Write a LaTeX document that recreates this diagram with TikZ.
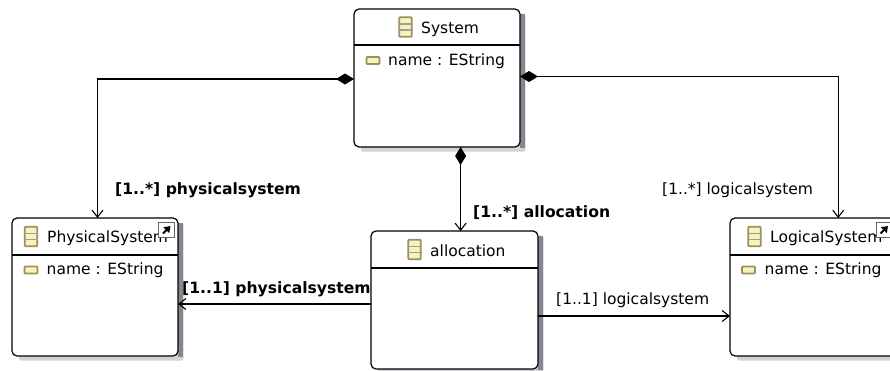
\documentclass[tikz,border=0pt]{standalone}
\usepackage{fontspec}
\setmainfont{DejaVu Sans}
\usetikzlibrary{arrows.meta,calc}
\definecolor{shadowdark}{HTML}{8A8490}
\definecolor{shadowlight}{HTML}{D4D2D6}
\definecolor{iconedge}{HTML}{A08E5E}
\definecolor{iconfill}{HTML}{F6F4BE}
\definecolor{icongrey}{HTML}{A0A08C}
\tikzset{
  x=1pt,y=-1pt,
  classbox/.style={draw=black,fill=white,line width=1.2pt,rounded corners=5pt,minimum width=166pt,minimum height=138pt,inner sep=0pt,outer sep=0pt},
  classshadow/.style={fill=shadowlight,rounded corners=2pt,draw=none},
  classshadowd/.style={fill=shadowdark,draw=none},
  sep/.style={line width=1.2pt},
  txt/.style={inner sep=0pt,anchor=west,text=black,font=\fontsize{15.5}{18}\selectfont},
  btxt/.style={txt,font=\fontsize{15.6}{18}\selectfont\bfseries},
  classicon/.style={draw=iconedge,fill=iconfill,line width=1.8pt,minimum width=12.5pt,minimum height=19.5pt,inner sep=0pt,rounded corners=1pt},
  attricon/.style={draw=iconedge,fill=iconfill,line width=1.8pt,minimum width=13pt,minimum height=7pt,inner sep=0pt,rounded corners=1pt},
  stripe/.style={draw=icongrey,line width=1.3pt},
  shortcut/.style={draw=black!60,fill=white,line width=1.3pt,minimum width=15.5pt,minimum height=15.5pt,inner sep=0pt},
  conn/.style={draw=black,line width=1.3pt},
  opentip/.style={-{Straight Barb[length=7pt,width=11pt,line width=1.1pt]}},
  comp/.style={{Diamond[length=18pt,width=11pt,fill=black]}-{Straight Barb[length=7pt,width=11pt,line width=1.1pt]}},
  shortarrow/.style={line width=2pt,-{Triangle[length=6pt,width=8pt]}},
}
\begin{document}
\begin{tikzpicture}
\useasboundingbox (0,0) rectangle (890,370);
\clip (0,0) rectangle (890,370);
\fill[white] (0,0) rectangle (890,370);
% shadows
\foreach \xa/\ya/\xb/\yb in {354/9/520/147,12/218/178/356,730/218/896/356,371/231/538/369}{
  \fill[classshadow] (\xa+7,\ya+5) rectangle (\xb+5.5,\yb+4.5);
  \fill[classshadowd] (\xb,\ya+5) rectangle (\xb+4.5,\yb+1);
}
% boxes
\node[classbox] (sys) at (437,78) {};
\node[classbox] (phy) at (95,287) {};
\node[classbox] (log) at (813,287) {};
\node[classbox,minimum width=167pt] (all) at (454.5,300) {};
% header rules
\draw[sep] (sys.west |- 0,45) -- (sys.east |- 0,45);
\draw[sep] (phy.west |- 0,255) -- (phy.east |- 0,255);
\draw[sep] (log.west |- 0,255) -- (log.east |- 0,255);
\draw[sep] (all.west |- 0,268) -- (all.east |- 0,268);
% class icons
\foreach \n/\x/\y in {isys/405.5/27,iphy/31/236.5,ilog/754.5/236.5,iall/414.5/249.5}{
  \node[classicon] (\n) at (\x,\y) {};
  \draw[stripe] (\n.west |- 0,\y-3) -- (\n.east |- 0,\y-3);
  \draw[stripe] (\n.west |- 0,\y+3) -- (\n.east |- 0,\y+3);
}
% attribute icons
\node[attricon] (asys) at (373,60.5) {};
\node[attricon] (aphy) at (31,270) {};
\node[attricon] (alog) at (748.5,270) {};
% titles and attributes
\node[txt] (tsys) at (421,29.5) {System};
\node[txt] (tphy) at (47,238) {PhysicalSystem};
\node[txt] (tlog) at (770,238) {LogicalSystem};
\node[txt] (tall) at (430,251) {allocation};
\node[txt] (nsys) at (388,61.5) {name : EString};
\node[txt] (nphy) at (46.5,270.5) {name : EString};
\node[txt] (nlog) at (764.5,270.5) {name : EString};
% shortcut markers
\node[shortcut] (sphy) at (166.5,230) {};
\node[shortcut] (slog) at (884,230) {};
\draw[shortarrow] ($(sphy.center)+(-3.5,3.5)$) -- ($(sphy.center)+(4,-4)$);
\draw[shortarrow] ($(slog.center)+(-3.5,3.5)$) -- ($(slog.center)+(4,-4)$);
% connectors
\coordinate (c1) at (97.5,79);
\coordinate (c2) at (838.2,76.5);
\coordinate (c3) at (460.6,147);
\draw[conn,comp] (sys.west |- c1) -- (c1) -- (c1 |- phy.north);
\draw[conn,comp] (sys.east |- c2) -- (c2) -- (c2 |- log.north);
\draw[conn,comp] (c3) -- (c3 |- all.north);
\coordinate (p1) at (all.west |- 0,304);
\coordinate (p2) at (all.east |- 0,316);
\draw[conn,opentip] (p1) -- (phy.east |- p1);
\draw[conn,opentip] (p2) -- (log.west |- p2);
% labels
\node[btxt] (l1) at (115,190.5) {[1..*] physicalsystem};
\node[txt] (l2) at (662,190.5) {[1..*] logicalsystem};
\node[btxt] (l3) at (473,212.5) {[1..*] allocation};
\node[btxt] (l4) at (182,289.5) {[1..1] physicalsystem};
\node[txt] (l5) at (556,300.5) {[1..1] logicalsystem};
\end{tikzpicture}
\end{document}
